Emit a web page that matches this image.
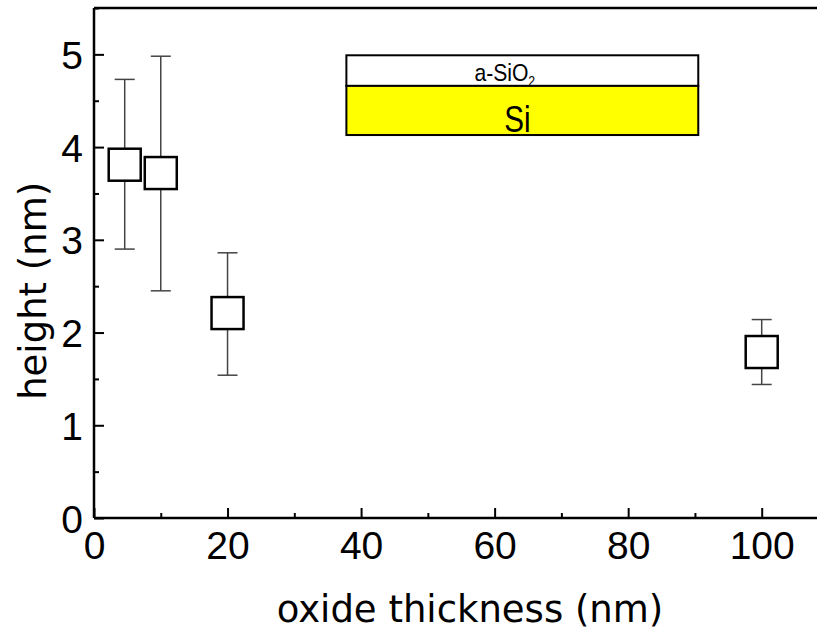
<!DOCTYPE html>
<html lang="en">
  <head>
    <meta charset="UTF-8" />
    <title>height vs oxide thickness</title>
    <style>
      body {
        margin: 0;
        background: #fff;
      }
      .tick-label {
        font-family: "Liberation Sans", Arial, sans-serif;
        font-size: 39px;
        fill: #000;
      }
      .axis-title {
        font-family: "DejaVu Sans", Verdana, sans-serif;
        font-size: 37px;
        fill: #000;
      }
    </style>
  </head>
  <body>
    <script src="https://cdn.jsdelivr.net/npm/d3@7"></script>
    <script>
      // data
      const thickness = [4.6, 10, 20, 100];
      const height = [3.81, 3.72, 2.21, 1.79];
      const errTop = [4.73, 4.98, 2.86, 2.14];
      const errBottom = [2.9, 2.45, 1.54, 1.44];

      const xTicks = [0, 20, 40, 60, 80, 100];
      const yTicks = [0, 1, 2, 3, 4, 5];

      const width = 817;
      const height_px = 636;
      const margin = { left: 94, top: 8, bottom: 118 };

      const svg = d3
        .select("body")
        .append("svg")
        .attr("width", width)
        .attr("height", height_px);

      const x = d3
        .scaleLinear()
        .domain([0, 110])
        .range([margin.left, margin.left + 110 * 6.677]);
      const y = d3
        .scaleLinear()
        .domain([0, 5.5])
        .range([height_px - margin.bottom, margin.top]);

      const pts = thickness.map((t, i) => ({
        x: t,
        y: height[i],
        hi: errTop[i],
        lo: errBottom[i]
      }));

      // inset: layer sketch (a-SiO2 on Si)
      const inset = svg.append("g");
      const ix0 = x(37.8), ix1 = x(90.5);
      inset
        .append("rect")
        .attr("x", ix0)
        .attr("y", y(4.99))
        .attr("width", ix1 - ix0)
        .attr("height", y(4.66) - y(4.99))
        .attr("fill", "#fff")
        .attr("stroke", "#000")
        .attr("stroke-width", 2);
      inset
        .append("rect")
        .attr("x", ix0)
        .attr("y", y(4.66))
        .attr("width", ix1 - ix0)
        .attr("height", y(4.13) - y(4.66))
        .attr("fill", "#ffff00")
        .attr("stroke", "#000")
        .attr("stroke-width", 2);
      const sio2 = inset
        .append("text")
        .attr("transform", `translate(${ix0 + 128},${y(4.99) + 26}) scale(0.88,1)`)
        .attr("font-family", "Liberation Sans, Arial, sans-serif")
        .attr("font-size", 24);
      sio2.append("tspan").text("a-SiO");
      sio2.append("tspan").attr("font-size", 14).attr("dy", 5).text("2");
      inset
        .append("text")
        .attr("transform", `translate(${ix0 + 171},${y(4.13) - 3}) scale(0.8,1)`)
        .attr("text-anchor", "middle")
        .attr("font-family", "Liberation Sans, Arial, sans-serif")
        .attr("font-size", 37)
        .text("Si");

      // error bars
      const eb = svg.append("g").attr("stroke", "#444").attr("stroke-width", 1.5);
      const cap = 10;
      eb.selectAll("line.v")
        .data(pts)
        .enter()
        .append("line")
        .attr("x1", d => x(d.x))
        .attr("x2", d => x(d.x))
        .attr("y1", d => y(d.hi))
        .attr("y2", d => y(d.lo));
      eb.selectAll("line.t")
        .data(pts)
        .enter()
        .append("line")
        .attr("x1", d => x(d.x) - cap)
        .attr("x2", d => x(d.x) + cap)
        .attr("y1", d => y(d.hi))
        .attr("y2", d => y(d.hi));
      eb.selectAll("line.b")
        .data(pts)
        .enter()
        .append("line")
        .attr("x1", d => x(d.x) - cap)
        .attr("x2", d => x(d.x) + cap)
        .attr("y1", d => y(d.lo))
        .attr("y2", d => y(d.lo));

      // square markers
      const sq = 32;
      svg
        .append("g")
        .selectAll("rect")
        .data(pts)
        .enter()
        .append("rect")
        .attr("x", d => x(d.x) - sq / 2)
        .attr("y", d => y(d.y) - sq / 2)
        .attr("width", sq)
        .attr("height", sq)
        .attr("fill", "#fff")
        .attr("stroke", "#000")
        .attr("stroke-width", 2.5);

      // axes
      const xAxis = d3
        .axisBottom(x)
        .tickValues(d3.range(0, 111, 10))
        .tickSize(-10)
        .tickFormat(d => (xTicks.includes(d) ? d : ""));
      const gx = svg
        .append("g")
        .attr("transform", `translate(0,${y(0)})`)
        .call(xAxis);
      gx.select(".domain").remove();
      gx.selectAll(".tick line")
        .attr("stroke", "#000")
        .attr("stroke-width", 2)
        .attr("y2", d => (xTicks.includes(d) ? -10 : -5));
      gx.selectAll(".tick text")
        .attr("class", "tick-label")
        .attr("y", 13)
        .attr("dy", "0.71em");

      const yAxis = d3
        .axisLeft(y)
        .tickValues(d3.range(0, 5.51, 0.5))
        .tickSize(-10)
        .tickFormat(d => (yTicks.includes(d) ? d : ""));
      const gy = svg
        .append("g")
        .attr("transform", `translate(${x(0)},0)`)
        .call(yAxis);
      gy.select(".domain").remove();
      gy.selectAll(".tick line")
        .attr("stroke", "#000")
        .attr("stroke-width", 2)
        .attr("x2", d => (yTicks.includes(d) ? 10 : 5));
      gy.selectAll(".tick text")
        .attr("class", "tick-label")
        .attr("x", -11)
        .attr("dy", "0.36em");

      // frame lines (bottom, left, top)
      const frame = svg.append("g").attr("stroke", "#000").attr("stroke-width", 2.5);
      frame.append("line").attr("x1", x(0)).attr("x2", width).attr("y1", y(0)).attr("y2", y(0));
      frame.append("line").attr("x1", x(0)).attr("x2", x(0)).attr("y1", y(0)).attr("y2", y(5.5));
      frame.append("line").attr("x1", x(0)).attr("x2", width).attr("y1", y(5.5)).attr("y2", y(5.5));

      // axis titles
      svg
        .append("text")
        .attr("class", "axis-title")
        .attr("x", 470)
        .attr("y", 622)
        .attr("text-anchor", "middle")
        .text("oxide thickness (nm)");
      svg
        .append("text")
        .attr("class", "axis-title")
        .attr("transform", `translate(46,${y(2.45)}) rotate(-90)`)
        .attr("text-anchor", "middle")
        .text("height (nm)");
    </script>
  </body>
</html>
